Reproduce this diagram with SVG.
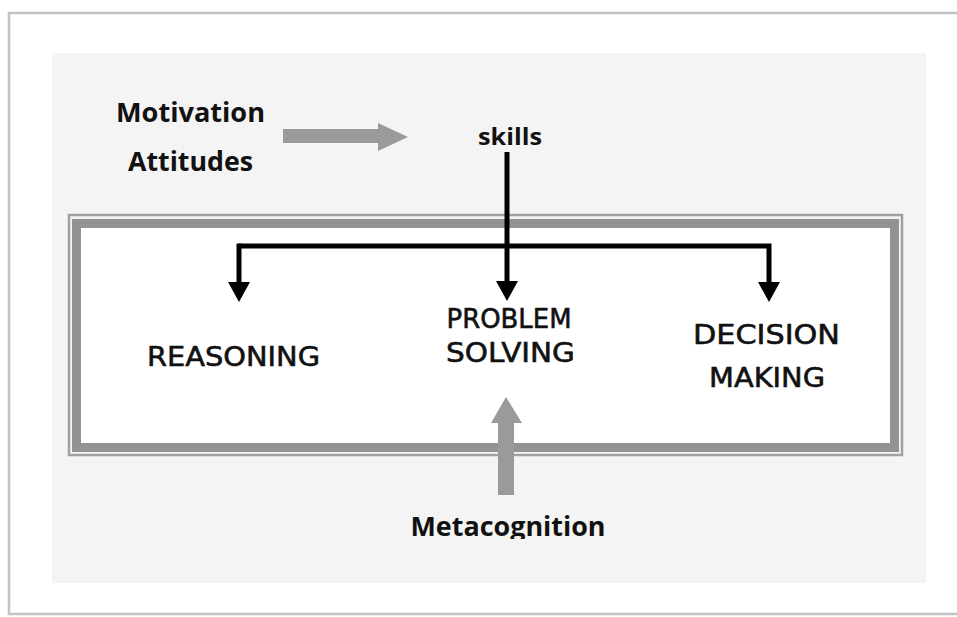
<svg xmlns="http://www.w3.org/2000/svg" width="957" height="617" viewBox="0 0 957 617">
  <defs>
    <style>
      .lbl { font-family: "Open Sans", "Liberation Sans", sans-serif; font-weight: 700; fill: #111; }
      .cap { font-family: "DejaVu Sans", "Liberation Sans", sans-serif; font-size: 27px; fill: #111; stroke: #111; stroke-width: 0.6; }
      .conn { fill: none; stroke: #000; stroke-width: 5; }
      .garrow { fill: #9a9a9a; }
    </style>
    <marker id="head" markerUnits="userSpaceOnUse" viewBox="0 0 20 22" refX="0" refY="11" markerWidth="20" markerHeight="22" orient="auto">
      <path d="M0,0 L20,11 L0,22 Z" fill="#000"/>
    </marker>
    <clipPath id="metaClip">
      <rect x="0" y="0" width="957" height="539"/>
    </clipPath>
  </defs>

  <rect x="0" y="0" width="957" height="617" fill="#ffffff"/>
  <g id="page">
    <rect x="9" y="13" width="960" height="601" fill="#ffffff" stroke="#c4c4c4" stroke-width="2.5"/>
    <rect x="52" y="53" width="874" height="530" fill="#f4f4f4"/>
  </g>

  <g id="frame">
    <rect x="69" y="215" width="833" height="240" fill="none" stroke="#a0a0a0" stroke-width="2.5"/>
    <rect x="76.5" y="223.5" width="818" height="224" fill="#ffffff" stroke="#939393" stroke-width="9"/>
  </g>

  <g id="connectors">
    <path class="conn" d="M239,246 H769 V282" marker-end="url(#head)"/>
    <path class="conn" d="M239,243.5 V282" marker-end="url(#head)"/>
    <path class="conn" d="M507,152 V281" marker-end="url(#head)"/>
    <polygon class="garrow" points="283,129 378,129 378,123 408,137 378,151 378,143 283,143"/>
    <polygon class="garrow" points="498,495 498,423 491,423 506,397 522,423 514,423 514,495"/>
  </g>

  <g id="motivation-attitudes">
    <text class="lbl" x="116" y="121.5" font-size="26" textLength="149" lengthAdjust="spacingAndGlyphs">Motivation</text>
    <text class="lbl" x="128" y="170.5" font-size="26" textLength="125" lengthAdjust="spacingAndGlyphs">Attitudes</text>
  </g>

  <g id="skills">
    <text class="lbl" x="478" y="145" font-size="24" textLength="64" lengthAdjust="spacingAndGlyphs">skills</text>
  </g>

  <g id="reasoning">
    <text class="cap" x="147" y="365.5" textLength="173" lengthAdjust="spacingAndGlyphs">REASONING</text>
  </g>

  <g id="problem-solving">
    <text class="cap" x="446.5" y="327.5" textLength="125" lengthAdjust="spacingAndGlyphs">PROBLEM</text>
    <text class="cap" x="446" y="362" textLength="129" lengthAdjust="spacingAndGlyphs">SOLVING</text>
  </g>

  <g id="decision-making">
    <text class="cap" x="693" y="343.5" textLength="147" lengthAdjust="spacingAndGlyphs">DECISION</text>
    <text class="cap" x="709" y="386.5" textLength="116" lengthAdjust="spacingAndGlyphs">MAKING</text>
  </g>

  <g id="metacognition" clip-path="url(#metaClip)">
    <text class="lbl" x="410.5" y="536" font-size="26" textLength="195" lengthAdjust="spacingAndGlyphs">Metacognition</text>
  </g>
</svg>
